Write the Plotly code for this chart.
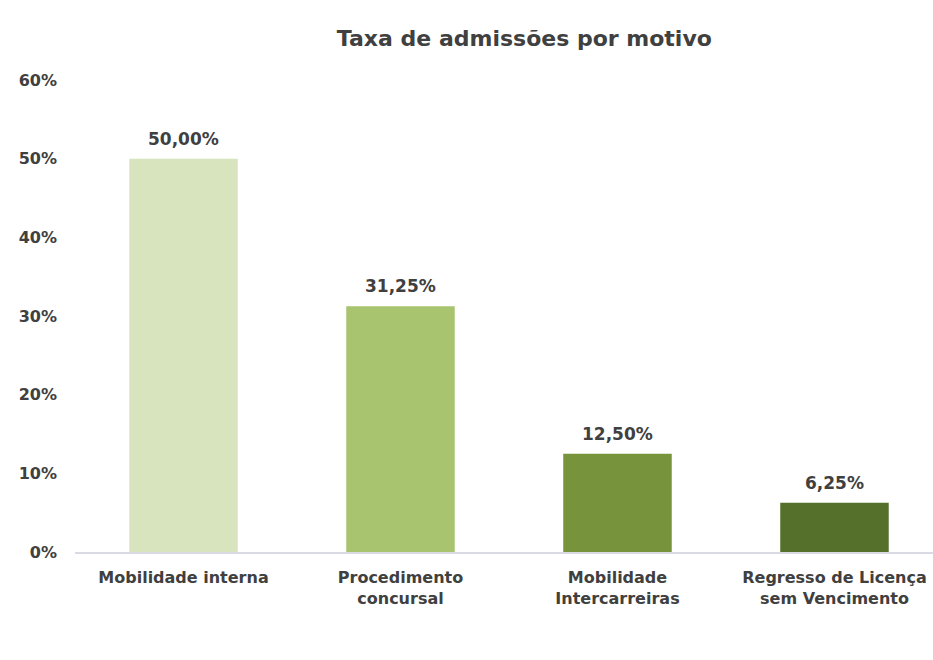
import plotly.graph_objects as go

# Admission rate by reason
categories = [
    "Mobilidade interna",
    "Procedimento<br>concursal",
    "Mobilidade<br>Intercarreiras",
    "Regresso de Licença<br>sem Vencimento",
]
rates = [0.50, 0.3125, 0.125, 0.0625]
bar_colors = ["#d7e4bd", "#a9c46e", "#77933c", "#55702a"]
y_ticks = [0, 0.1, 0.2, 0.3, 0.4, 0.5, 0.6]

text_color = "#404040"
font_family = "DejaVu Sans"

fig = go.Figure(
    go.Bar(
        x=categories,
        y=rates,
        marker=dict(color=bar_colors, line=dict(width=0)),
        width=0.5,
        hoverinfo="x+y",
    )
)

# value labels placed above each bar
for cat, val in zip(categories, rates):
    fig.add_annotation(
        x=cat,
        y=val,
        text=f"{val * 100:.2f}%".replace(".", ","),
        showarrow=False,
        yanchor="bottom",
        yshift=8,
        font=dict(family=font_family, size=17, color=text_color, weight="bold"),
    )

fig.update_layout(
    width=933,
    height=660,
    margin=dict(l=75, r=0, t=80, b=108),
    paper_bgcolor="white",
    plot_bgcolor="white",
    separators=",.",
    showlegend=False,
    title=dict(
        text="Taxa de admissões por motivo",
        x=0.562,
        xanchor="center",
        y=0.942,
        yanchor="middle",
        font=dict(family=font_family, size=22, color=text_color, weight="bold"),
    ),
    xaxis=dict(
        range=[-0.5, 3.454],
        showline=True,
        linecolor="#d9dae3",
        linewidth=1.5,
        ticks="",
        showgrid=False,
        ticklabelstandoff=10,
        tickfont=dict(family=font_family, size=16, color=text_color, weight="bold"),
    ),
    yaxis=dict(
        range=[0, 0.6],
        tickvals=y_ticks,
        tickformat=".0%",
        showgrid=False,
        zeroline=False,
        showline=False,
        ticks="",
        ticklabelstandoff=17,
        tickfont=dict(family=font_family, size=16, color=text_color, weight="bold"),
    ),
)

fig.write_html("out.html")
